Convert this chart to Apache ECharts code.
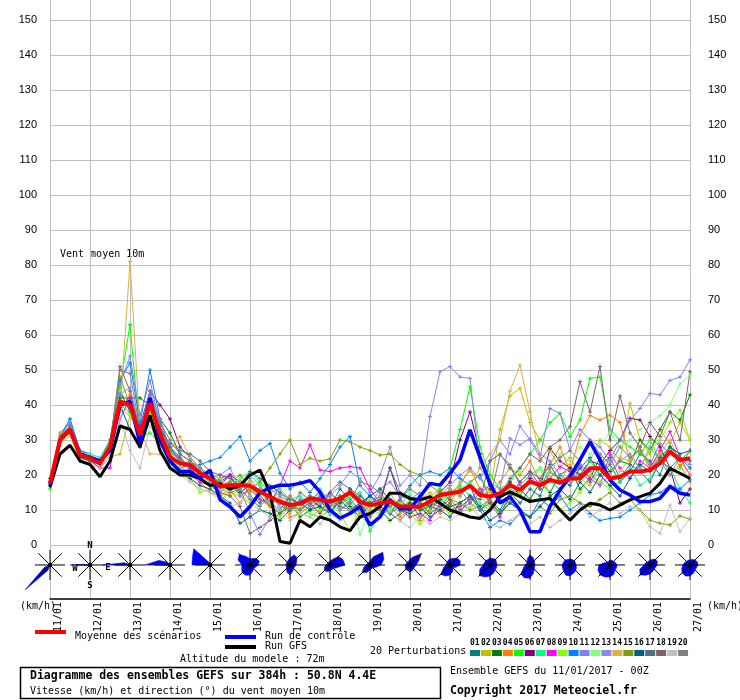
<!DOCTYPE html>
<html><head><meta charset="utf-8">
<script src="https://cdn.jsdelivr.net/npm/echarts/dist/echarts.min.js"></script>
<style>html,body{margin:0;padding:0;background:#fff}#c{width:740px;height:700px}</style>
</head><body><div id="c"></div>
<script>
const dayLabels = ['11/01','12/01','13/01','14/01','15/01','16/01','17/01','18/01','19/01','20/01','21/01','22/01','23/01','24/01','25/01','26/01','27/01'];
const meanRun = [17.6,30,33,25.7,24.8,23.3,28,41,40,31.4,40.5,31.9,25.2,
 23.3,22.9,20.5,19,16.7,17.1,17.1,16.9,15.2,13.8,12.4,11.4,11.9,
 13.3,12.9,12.4,13.3,15,12.4,11.4,11.9,12.4,11.1,11,10.9,12.4,
 14.3,14.8,15.2,16.9,14.3,13.8,14.8,17.1,15.7,18.1,17.1,18.6,17.8,
 19,19,21.9,21.9,19,19.5,21,21,21.4,23.3,26.7,24.3,24.8];
const controlRun = [17,30,33,26,25,24,27,40,41,29,42,30,24,
 21,21,19,21.4,13,10.9,8,11,15,16.3,17.1,17.1,17.6,
 18.4,15.2,10,7.7,9,11,5.7,8,12.9,10.5,10.3,13.8,17.6,
 17.1,20.5,24.3,32.9,25,17.6,12,13.8,10,3.8,3.8,11,15.7,
 19.5,24.3,29.5,24.3,18.6,15.7,14.3,12.4,12.4,13.3,16.7,14.8,14.3];
const gfsRun = [16.5,26,28.5,24,23,19.5,24,34,33,28,37,27,22,
 20,20,19,17,17.5,16,17,20,21.4,14.8,1,0.5,7.1,
 5.2,8,7.1,5.2,4.1,8,9,11,14.8,14.8,13.3,12.9,13.8,
 11.9,10,9,8,7.6,10,13.8,15.2,13.8,12.4,12.9,13.3,10,
 7.1,10,11.9,11.4,10,11.4,12.9,13.8,14.8,17.6,21.9,20.5,19];
const p01 = [18,31,34,26,25,24,29,44,38,30,38,33,28, 24,22,21,18,15,17,19,14,12,14,11,10,13, 12,14,11,16,13,10,12,14,9,11,12,8,10, 13,16,14,18,20,13,10,15,12,16,14,21,19, 17,22,25,20,23,18,21,26,24,20,28,25,22];
const p02 = [17,29,32,25,24,22,25,26,37,32,36,30,25, 22,23,20,21,17,14,16,18,15,12,13,9,12, 14,10,13,11,16,13,9,12,15,10,13,12,14, 16,13,18,21,19,15,33,42.6,44.8,35,30,27,22, 25,20,24,30,28,24,40.5,30,26,33,29,35,30];
const p03 = [19,30,33,27,25,23,28,42,42,42,40,36,32, 26,24,21,20,18,20,15,17,14,11,9,12,8, 10,13,9,14,11,8,12,10,7,9,12,10,11, 13,11,12,14,10,12,9,14,16,13,18,15,20, 22,16,19,25,21,24,23,30,27,33,38,35.7,42.9];
const p04 = [17,32,35,24,25,23,27,38,43,33,41,30,24, 21,20,18,15,14,16,12,17,13,11,14,8,9, 11,12,14,10,12,9,13,10,11,8,10,7,12, 9,12,17,22,16,14,18,22,20,24,18,23,28, 21,31.4,37,35.7,37.1,35,24,28,22,26,20,23,18];
const p05 = [16,30,34,26,24,23,30,45,63,31,32,29,23, 22,21,19,17,15,18,16,20,17,13,15,12,11, 9,8,10,12,14,13,4,9,11,13,8,9,12, 16,22,33,45.2,28,20,16,18,22,26,30,35,37.6, 31,35.7,47.6,48,33,30,28,26,30,24,28,22,27];
const p06 = [18,31,33,26,25,24,28,43,41,34,44,40,36, 28,25,22,19,17,20,18,15,16,12,10,14,11, 13,11,15,12,16,11,14,12,22,13,10,12,11, 15,18,30,38,26,16,13,18,14,19,16,27.6,24, 22,20,24,23,27,30,36.2,35.7,31,28,22,12,16];
const p07 = [17,31,36,27,26,25,30,40,38,30,37,31,26, 23,24,22,20,18,16,19,21,18,15,16,13,14, 11,16,12,10,13,15,10,13,9,12,14,11,13, 12,15,17,14,12,10,13,16,14,20,22,18,16, 21,19,24,20,17,18,22,17,19,24,22,16,12];
const p08 = [18,30,33,25,24,22,22,36,42,29,39,32,25, 22,23,18,17,19,20,14,16,13,12,17,24,22, 28.6,21.4,21,22,22.4,22,16,12,13,10,8,9,7, 12,10,11,13,16,12,8,14,18,21,17,19,22.4, 21,23,19,17,26,22,19,24,22,27,32.4,25,20];
const p09 = [17,29,32,25,24,23,27,39,37,31,38,30,24, 20,19,15,16,13,15,14,12,10,9,8,11,9, 8,10,12,9,4,10,13,8,10,12,9,6,10, 11,9,12,10,14,11,9,13,15,18,22,14,10, 12,15,20,18,16,21,25,22,27,30,35,38.6,30];
const p10 = [18,31,36,27,26,24,30,47,52,35,50,36,27, 25,22,23,24,25,28,31,24,27,29,20.5,16,18, 15,19,23,28,31,17,14,11,9,13,17,20,21, 20,22,19,17,10,5,7,6,9,8,13,11,14, 10,12,9,7,7.6,8,10,12,14.3,15,17,16,18.6];
const p11 = [18,31,35,27,25,24,29,46,54,37,47,34,27, 24,23,21,19,20,22,16,9,3,8,12,10,13, 11,14,12,10,12,14,11,16,18,14,13,15,12, 14,17,20,22,19,24,30,26,34,30,25,39,37.6, 27,33,30,28,24,30,35.6,39,43.3,42.9,47,48,52.9];
const p12 = [17,30,34,26,26,24,29,44,40,32,42,31,25, 22,21,20,18,15,17,19,16,14,12,10,13,11, 9,12,10,11,14,3,10,9,13,11,15,12,14, 12,14,16,18,15,17,14,19,21,18,22,20,26, 24,28,26,29,32,28,30,33,35,37,40,46,48.6];
const p13 = [17,30,33,26,25,23,29,43,45,33,44,36,26, 25,21,20,18,16,18,14,19,15,16,14,12,10, 13,12,14,17,21,19,15,20,28,17,20,17,36.7, 49.5,51,48,47.6,22,18,16,30.5,28.6,30.5,26,24,20, 18,23,21,17,20,24,26,22,28,24,20,25,23];
const p14 = [17,32,33,25,24,23,30,38,81,33,26,26,27, 31,25,22,20,19,17,18,15,16,13,12,14,10, 12,9,11,13,15,12,10,14,12,9,11,13,15, 12,16,14,17,22,26,30,44,51.4,38,25,21,18, 23,19,17,22,20,25,24,28,21,26,30,24,20];
const p15 = [18,30,33,26,25,23,28,48,40,30,39,32,27, 24,23,20,19,17,18,20,16,18,22,26,30,23, 24.8,24,24.6,30,29.5,28,27,25.7,26,23,21,20,17, 15,13,12,10,11,13,9,12,10,8,11,9,13, 14,12,11,13,15,12,13,10,7.1,6.2,5.7,8.3,7.4];
const p16 = [17,30,32,25,24,23,27,40,33,28,36,30,24, 21,19,17,16,14,12,6.2,8,10,9,7,10,12, 10,11,9,13,10,12,14,16,13,10,9,11,8, 10,8,12,14,11,7,9,12,10,8,11,14,16, 13,18,15,20,17,14,19,23,21,25,28,26,27];
const p17 = [18,31,34,26,25,24,29,41,39,31,40,33,29, 27,26,24,21,20,19,17,21,19,17,15,13,12, 14,13,15,18,16,14,12,13,22,15,13,12,11, 10,12,9,14,13,24,26,22,18,21,19,23,18, 20,22,18,23,25,19,23,21,18,24,22,25,24];
const p18 = [17,30,33,26,24,23,28,51,44,32,42,34,28, 25,22,19,17,15,14,11,3.3,5,7,9,11,10, 12,9,13,11,10,12,8,11,9,7,10,12,9, 11,13,10,12,15,17,14,19,22,26,24,28,30, 33.8,46.7,38,51,30,42.6,32,28,35,31,38,30,49.5];
const p19 = [18,29,31,24,23,22,26,36,27,22,34,29,23, 20,18,16,15,13,11,12,14,10,8,11,7,9, 8,6,9,7,10,8,6,9,9.5,7,5,8,6, 8,7,9,11,8,6,5,7,9,6,8,5,7, 9,11,8,10,12,9,11,10,5.2,3.3,11.4,3.8,7.7];
const p20 = [18,31,34,26,25,24,29,50,49,33,43,35,30, 26,24,22,19,18,15,16,13,11,14,12,10,15, 13,15,11,14,12,18,17,15,11,13,16,14,12, 11,14,16,12,10,13,25.7,23,17,20,16,22,25, 27,24,30,26,23,28,25,27,23,29,26,24,27];
const pertNames = ['01','02','03','04','05','06','07','08','09','10','11','12','13','14','15','16','17','18','19','20'];
const pertColors = ['#008080','#c0c000','#008000','#ff8000','#00ff00','#800080','#00ff80','#ff00ff','#80ff00','#0080ff','#8080ff','#80ff80','#8888f0','#e0b040','#80a000','#006080','#507080','#806070','#c0c0c0','#808080'];
const roseDirections = ['N','NNE','NE','ENE','E','ESE','SE','SSE','S','SSW','SW','WSW','W','WNW','NW','NNW'];
const windRoses = [
 [0,0,0,0,0,0,0,0,0,6,35,6,0,0,0,0],
 [0,0,0,0,0,0,0,0,0,0,0,1,20,1.5,0,0],
 [0,0,0,0,0,0,0,0,0,0,0,1,27,6,0,0],
 [0,0,0,0,0,0,0,0,0,0,0,1,25,12,4,0],
 [0,0,0,0,0,0,0,0,0,0,0,0,18,19,23,3],
 [6,7,9,10,8,6,5,7,10,11,11,9,8,13,15,9],
 [7,11,10,7,6,5,5,7,10,8,5,4,4,4,4,5],
 [4,6,12,14,15,7,5,5,6,7,8,6,4,3,3,3],
 [4,9,18,15,11,6,4,4,5,8,11,7,4,3,3,3],
 [6,9,16,9,6,5,5,6,7,6,6,5,5,4,4,4],
 [6,7,10,11,10,6,4,7,10,12,13,7,4,4,4,5],
 [7,7,8,7,7,7,7,9,11,13,15,11,7,6,6,6],
 [10,8,6,5,5,5,6,9,13,14,13,7,5,4,4,7],
 [6,6,6,6,6,7,8,9,11,11,9,8,8,7,7,6],
 [5,5,5,6,7,7,7,10,12,13,14,13,11,6,4,4],
 [5,6,8,8,7,6,6,7,9,11,14,11,6,5,4,4],
 [5,6,7,8,8,7,7,9,11,12,11,9,7,6,5,5]
];

const perts = [p01,p02,p03,p04,p05,p06,p07,p08,p09,p10,p11,p12,p13,p14,p15,p16,p17,p18,p19,p20];
const toXY = arr => arr.map((v, i) => [i, v]);
const MONO = 'DejaVu Sans Mono';

const series = [];
perts.forEach((arr, k) => {
  series.push({
    type: 'line', name: pertNames[k], xAxisIndex: 0, yAxisIndex: 0,
    data: toXY(arr), symbol: 'path://M0,5L10,5M5,0L5,10', symbolSize: 4, showSymbol: true,
    lineStyle: {width: 1, color: pertColors[k]},
    itemStyle: {color: pertColors[k], borderColor: pertColors[k], borderWidth: 1},
    silent: true, z: 2
  });
});
series.push({type: 'line', name: 'Run GFS', data: toXY(gfsRun), symbol: 'none', lineStyle: {width: 3, color: '#000000'}, silent: true, z: 3});
series.push({type: 'line', name: 'Run de contrôle', data: toXY(controlRun), symbol: 'none', lineStyle: {width: 3.5, color: '#0000ff'}, silent: true, z: 4});
series.push({type: 'line', name: 'Moyenne des scénarios', data: toXY(meanRun), symbol: 'none', lineStyle: {width: 4, color: '#ff0000'}, silent: true, z: 5});

function renderRose(params, api) {
  const c = api.coord([api.value(0), api.value(1)]);
  const r = windRoses[api.value(2)];
  const pts = r.map((v, k) => {
    const a = k * Math.PI / 8;
    return [c[0] + v * Math.sin(a), c[1] - v * Math.cos(a)];
  });
  const children = [{type: 'polygon', shape: {points: pts}, style: {fill: '#0000ff', stroke: '#0000ff', lineWidth: 0.6}}];
  const arms = [[0, 15], [15, 0], [11.7, 11.7], [11.7, -11.7]];
  arms.forEach(([dx, dy]) => children.push({type: 'line', shape: {x1: c[0] - dx, y1: c[1] - dy, x2: c[0] + dx, y2: c[1] + dy}, style: {stroke: '#000', lineWidth: 1}}));
  children.push({type: 'circle', shape: {cx: c[0], cy: c[1], r: 2.2}, style: {fill: '#000'}});
  if (params.dataIndex === 1) {
    const lab = [['N', 0, -19], ['S', 0, 21], ['W', -15, 4], ['E', 18, 3]];
    lab.forEach(([t, dx, dy]) => children.push({type: 'text', style: {text: t, x: c[0] + dx, y: c[1] + dy, align: 'center', verticalAlign: 'middle', font: 'bold 9px ' + MONO, fill: '#000'}}));
  }
  return {type: 'group', children};
}
series.push({
  type: 'custom', xAxisIndex: 1, yAxisIndex: 2, clip: false, silent: true, z: 6,
  data: windRoses.map((r, d) => [d * 4, 0.63, d]),
  renderItem: renderRose
});

const graphics = [];
graphics.push({type: 'text', left: 60, top: 249, style: {text: 'Vent moyen 10m', font: '10px ' + MONO, fill: '#000'}});
graphics.push({type: 'text', left: 20, top: 601, style: {text: '(km/h)', font: '10px ' + MONO, fill: '#000'}});
graphics.push({type: 'text', left: 707, top: 601, style: {text: '(km/h)', font: '10px ' + MONO, fill: '#000'}});
graphics.push({type: 'rect', shape: {x: 35, y: 630, width: 31, height: 4}, style: {fill: '#ff0000'}});
graphics.push({type: 'text', left: 75, top: 631, style: {text: 'Moyenne des scénarios', font: '10px ' + MONO, fill: '#000'}});
graphics.push({type: 'rect', shape: {x: 225, y: 635, width: 31, height: 4}, style: {fill: '#0000ff'}});
graphics.push({type: 'text', left: 265, top: 631, style: {text: 'Run de contrôle', font: '10px ' + MONO, fill: '#000'}});
graphics.push({type: 'rect', shape: {x: 225, y: 645, width: 31, height: 4}, style: {fill: '#000000'}});
graphics.push({type: 'text', left: 265, top: 641, style: {text: 'Run GFS', font: '10px ' + MONO, fill: '#000'}});
graphics.push({type: 'text', left: 180, top: 654, style: {text: 'Altitude du modele : 72m', font: '10px ' + MONO, fill: '#000'}});
graphics.push({type: 'text', left: 370, top: 646, style: {text: '20 Perturbations', font: '10px ' + MONO, fill: '#000'}});
pertNames.forEach((n, k) => {
  const x = 470 + k * 10.95;
  graphics.push({type: 'text', left: x, top: 639, style: {text: n, font: 'bold 8px ' + MONO, fill: '#000'}});
  graphics.push({type: 'rect', shape: {x: x, y: 650, width: 10, height: 6}, style: {fill: pertColors[k]}});
});
graphics.push({type: 'rect', shape: {x: 20.5, y: 667.5, width: 420, height: 31}, style: {fill: 'none', stroke: '#000', lineWidth: 1.5}});
graphics.push({type: 'text', left: 30, top: 670, style: {text: 'Diagramme des ensembles GEFS sur 384h : 50.8N 4.4E', font: 'bold 11.5px ' + MONO, fill: '#000'}});
graphics.push({type: 'text', left: 30, top: 686, style: {text: 'Vitesse (km/h) et direction (°) du vent moyen 10m', font: '10px ' + MONO, fill: '#000'}});
graphics.push({type: 'text', left: 450, top: 666, style: {text: 'Ensemble GEFS du 11/01/2017 - 00Z', font: '10px ' + MONO, fill: '#000'}});
graphics.push({type: 'text', left: 450, top: 685, style: {text: 'Copyright 2017 Meteociel.fr', font: 'bold 11.5px ' + MONO, fill: '#000'}});

const yMax = 545 / 3.5;
const yLabel = v => (Math.abs(v - Math.round(v)) < 1e-6 && Math.round(v) % 10 === 0 && v <= 150) ? String(Math.round(v)) : '';
const chart = echarts.init(document.getElementById('c'), null, {renderer: 'canvas'});
chart.setOption({
  animation: false,
  backgroundColor: '#ffffff',
  grid: [
    {left: 50, right: 50, top: 0, height: 545},
    {left: 50, right: 50, top: 545, height: 54}
  ],
  xAxis: [
    {type: 'value', gridIndex: 0, min: 0, max: 64, interval: 4, axisLine: {show: false}, axisTick: {show: false}, axisLabel: {show: false},
     splitLine: {show: true, lineStyle: {color: '#c0c0c0', width: 1}}},
    {type: 'value', gridIndex: 1, min: 0, max: 64, interval: 4, position: 'bottom',
     axisLine: {show: true, onZero: false, lineStyle: {color: '#000', width: 1.5}}, axisTick: {show: false},
     splitLine: {show: true, lineStyle: {color: '#c0c0c0', width: 1}},
     axisLabel: {show: true, rotate: 90, margin: 3, verticalAlign: 'top', padding: [3, 0, 0, 0], color: '#000', fontFamily: MONO, fontSize: 10,
       formatter: v => dayLabels[Math.round(v / 4)] || ''}}
  ],
  yAxis: [
    {type: 'value', gridIndex: 0, min: 0, max: yMax, interval: 10, position: 'left',
     axisLine: {show: false}, axisTick: {show: false},
     axisLabel: {margin: 13, color: '#000', fontFamily: 'Liberation Sans', fontSize: 11, formatter: yLabel, showMaxLabel: false},
     splitLine: {show: true, showMaxLine: false, lineStyle: {color: '#c0c0c0', width: 1}}},
    {type: 'value', gridIndex: 0, min: 0, max: yMax, interval: 10, position: 'right',
     axisLine: {show: false}, axisTick: {show: false}, splitLine: {show: false},
     axisLabel: {margin: 18, color: '#000', fontFamily: 'Liberation Sans', fontSize: 11, formatter: yLabel, showMaxLabel: false}},
    {type: 'value', gridIndex: 1, min: 0, max: 1, show: false, splitLine: {show: false}}
  ],
  graphic: graphics,
  series: series
});
</script></body></html>
